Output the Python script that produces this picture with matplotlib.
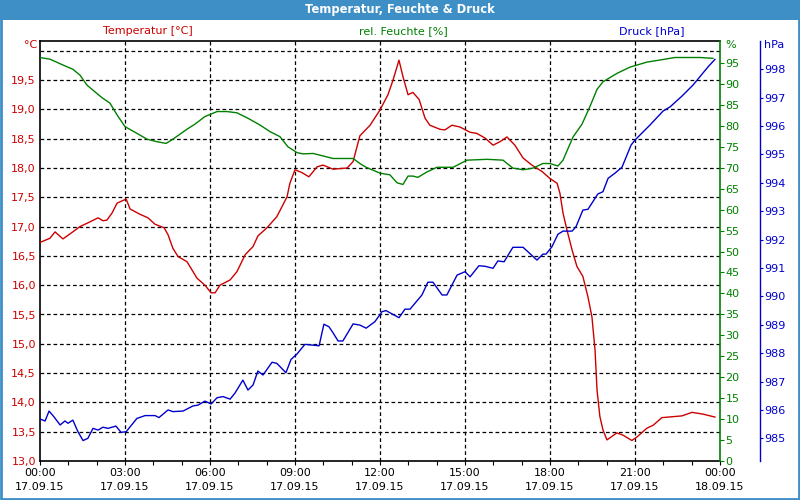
import matplotlib
matplotlib.use("Agg")
import matplotlib.pyplot as plt
from matplotlib.patches import Rectangle
import numpy as np

# ---- data (time in hours since 17.09.15 00:00) ----
temp_t = [0.00, 0.35, 0.53, 0.81, 1.13, 1.41, 1.76, 2.05, 2.22, 2.36, 2.54, 2.72, 3.04, 3.18, 3.53,
          3.81, 4.06, 4.38, 4.52, 4.69, 4.87, 5.19, 5.54, 5.82, 6.04, 6.18, 6.35, 6.71, 6.95, 7.24,
          7.52, 7.69, 8.01, 8.36, 8.54, 8.72, 8.82, 9.00, 9.25, 9.49, 9.78, 9.99, 10.34, 10.84, 11.05,
          11.29, 11.65, 12.00, 12.28, 12.46, 12.67, 12.81, 12.99, 13.16, 13.38, 13.59, 13.76, 14.12,
          14.29, 14.54, 14.82, 15.18, 15.42, 15.71, 15.99, 16.24, 16.48, 16.76, 17.05, 17.36, 17.72,
          18.00, 18.25, 18.35, 18.46, 18.60, 18.78, 18.95, 19.16, 19.34, 19.48, 19.59, 19.66, 19.76,
          19.87, 20.01, 20.36, 20.58, 20.89, 21.07, 21.42, 21.64, 21.95, 22.66, 23.01, 23.40, 23.82]
temp_v = [16.73, 16.80, 16.91, 16.79, 16.90, 17.00, 17.08, 17.15, 17.10, 17.11, 17.23, 17.40, 17.47, 17.30, 17.21,
          17.15, 17.04, 16.98, 16.86, 16.63, 16.49, 16.40, 16.12, 16.00, 15.87, 15.87, 16.00, 16.09, 16.23, 16.52,
          16.66, 16.84, 16.98, 17.17, 17.34, 17.51, 17.74, 17.97, 17.92, 17.85, 18.02, 18.05, 17.98, 18.00, 18.11,
          18.55, 18.73, 18.99, 19.25, 19.50, 19.84, 19.56, 19.25, 19.29, 19.17, 18.85, 18.73, 18.66,
          18.65, 18.73, 18.70, 18.61, 18.59, 18.51, 18.39, 18.45, 18.53, 18.39, 18.17, 18.05, 17.94,
          17.82, 17.74, 17.57, 17.23, 16.94, 16.60, 16.32, 16.15, 15.80, 15.46, 14.89, 14.21, 13.76,
          13.53, 13.36, 13.48, 13.44, 13.35, 13.41, 13.56, 13.61, 13.74, 13.77, 13.83, 13.80, 13.75]

hum_t = [0.00, 0.35, 0.88, 1.16, 1.41, 1.66, 1.87, 2.19, 2.47, 2.72, 3.00, 3.42, 3.78, 4.13, 4.45,
         4.69, 5.19, 5.47, 5.82, 6.25, 6.60, 6.95, 7.34, 7.76, 8.12, 8.47, 8.75, 9.07, 9.28, 9.64,
         9.99, 10.34, 11.05, 11.29, 11.51, 12.00, 12.35, 12.60, 12.81, 12.99, 13.16, 13.34, 13.66, 14.01,
         14.58, 15.07, 15.78, 16.34, 16.69, 17.05, 17.40, 17.75, 18.00, 18.28, 18.46, 18.81, 19.13,
         19.41, 19.66, 19.87, 20.36, 20.82, 21.42, 21.88, 22.41, 23.29, 23.75]
hum_v = [96.3, 95.9, 94.3, 93.5, 92.1, 89.7, 88.5, 86.7, 85.4, 82.6, 79.8, 78.2, 76.8, 76.2, 75.8,
         76.8, 79.2, 80.4, 82.2, 83.4, 83.4, 83.1, 81.8, 80.2, 78.6, 77.4, 75.0, 73.6, 73.3, 73.4,
         72.8, 72.2, 72.2, 71.0, 70.1, 68.7, 68.3, 66.4, 66.0, 68.0, 68.0, 67.7, 69.0, 70.1,
         70.1, 71.8, 72.0, 71.8, 69.9, 69.5, 69.9, 71.0, 71.0, 70.4, 71.8, 77.3, 80.4,
         84.6, 88.7, 90.5, 92.5, 94.0, 95.2, 95.7, 96.3, 96.3, 96.1]

pres_t = [0.00, 0.18, 0.32, 0.49, 0.71, 0.88, 0.99, 1.16, 1.34, 1.52, 1.69, 1.87, 2.05, 2.22, 2.40,
          2.68, 2.86, 3.04, 3.42, 3.71, 4.06, 4.20, 4.52, 4.69, 5.05, 5.40, 5.58, 5.82, 6.04, 6.25,
          6.46, 6.71, 6.88, 7.16, 7.34, 7.52, 7.69, 7.87, 8.19, 8.36, 8.68, 8.86, 9.07, 9.35, 9.85,
          10.02, 10.20, 10.34, 10.52, 10.69, 11.05, 11.29, 11.51, 11.82, 12.07, 12.21, 12.67, 12.88,
          13.06, 13.48, 13.69, 13.87, 14.19, 14.36, 14.72, 15.00, 15.18, 15.49, 15.71, 15.99, 16.16,
          16.38, 16.69, 17.05, 17.54, 17.75, 17.86, 18.07, 18.28, 18.46, 18.78, 18.92, 19.16, 19.34,
          19.69, 19.87, 20.05, 20.29, 20.54, 20.86, 21.00, 21.53, 21.99, 22.24, 22.66, 23.05, 23.29,
          23.58, 23.82]
pres_v = [985.68, 985.61, 985.96, 985.76, 985.47, 985.61, 985.53, 985.64, 985.23, 984.92, 985.00, 985.35, 985.29, 985.39, 985.35,
          985.43, 985.21, 985.23, 985.70, 985.80, 985.80, 985.73, 986.00, 985.94, 985.96, 986.14, 986.17, 986.31, 986.21, 986.43,
          986.47, 986.38, 986.59, 987.05, 986.70, 986.88, 987.37, 987.23, 987.68, 987.64, 987.31, 987.78, 987.97, 988.31, 988.26,
          989.02, 988.93, 988.72, 988.43, 988.43, 989.03, 988.99, 988.88, 989.11, 989.46, 989.50, 989.25, 989.55,
          989.55, 990.05, 990.50, 990.50, 990.05, 990.05, 990.75, 990.87, 990.69, 991.08, 991.06, 990.99, 991.25,
          991.22, 991.73, 991.73, 991.28, 991.49, 991.49, 991.75, 992.19, 992.30, 992.30, 992.46, 993.04, 993.07,
          993.61, 993.69, 994.16, 994.34, 994.55, 995.33, 995.51, 996.04, 996.53, 996.68, 997.06, 997.45, 997.74,
          998.09, 998.35]

x_ticks = [0, 3, 6, 9, 12, 15, 18, 21, 24]
x_labels = ["00:00\n17.09.15", "03:00\n17.09.15", "06:00\n17.09.15", "09:00\n17.09.15",
            "12:00\n17.09.15", "15:00\n17.09.15", "18:00\n17.09.15", "21:00\n17.09.15",
            "00:00\n18.09.15"]
temp_ticks = [13.0, 13.5, 14.0, 14.5, 15.0, 15.5, 16.0, 16.5, 17.0, 17.5, 18.0, 18.5, 19.0, 19.5]
hum_ticks = list(range(0, 100, 5))
pres_ticks = list(range(985, 999))

RED = "#cc0000"
GREEN = "#008000"
BLUE = "#0000cc"
BAR = "#3d8fc6"
FS = 8.0

plt.rcParams['font.family'] = ['DejaVu Sans']

fig = plt.figure(figsize=(8, 5), dpi=100)
fig.patch.set_facecolor("white")

# title bar + border
fig.patches.append(Rectangle((0, 1 - 20 / 500), 1, 20 / 500, transform=fig.transFigure,
                             facecolor=BAR, edgecolor="none", zorder=0))
fig.patches.append(Rectangle((0.001, 0.002), 0.998, 0.997, transform=fig.transFigure,
                             facecolor="none", edgecolor=BAR, linewidth=2, zorder=0))
fig.text(0.5, 1 - 10 / 500, "Temperatur, Feuchte & Druck", color="white", fontsize=8.3,
         fontweight="bold", ha="center", va="center")

L, R, B, T = 40 / 800, 720 / 800, 1 - 461 / 500, 1 - 41 / 500
ax = fig.add_axes([L, B, R - L, T - B])
ax.set_facecolor("white")
ax.set_xlim(0, 24)
ax.set_ylim(13.0, 13.0 + 420 / 58.6)

# grid
for v in temp_ticks[1:] + [20.0]:
    ax.axhline(v, color="black", lw=0.9, ls=(0, (3, 2.2)), zorder=1)
for v in x_ticks[1:-1]:
    ax.axvline(v, color="black", lw=0.9, ls=(0, (3, 2.2)), zorder=1)

ax.set_xticks(x_ticks)
ax.set_xticklabels(x_labels, fontsize=FS, linespacing=1.45)
ax.set_xticks(np.arange(0, 25, 1), minor=True)
ax.tick_params(axis="x", which="both", direction="out", length=3, width=0.8, pad=2, color="black")
ax.set_yticks(temp_ticks)
ax.set_yticklabels([f"{v:.1f}".replace(".", ",") for v in temp_ticks], fontsize=FS, color=RED)
ax.tick_params(axis="y", length=0, pad=3)
for s in ["left", "top", "bottom"]:
    ax.spines[s].set_color("black")
    ax.spines[s].set_linewidth(1.2)
ax.spines["right"].set_visible(False)

ax.plot(temp_t, temp_v, color=RED, lw=1.0, zorder=3)

# humidity axis
ax2 = ax.twinx()
ax2.set_ylim(0, 420 / 4.19)
ax2.set_yticks(hum_ticks)
ax2.set_yticklabels([str(v) for v in hum_ticks], fontsize=FS, color=GREEN)
ax2.tick_params(axis="y", direction="out", length=3, width=0.8, color=GREEN, pad=1)
for s in ["left", "top", "bottom"]:
    ax2.spines[s].set_visible(False)
ax2.spines["right"].set_color(GREEN)
ax2.spines["right"].set_linewidth(1.2)
ax2.plot(hum_t, hum_v, color=GREEN, lw=1.0, zorder=3)

# pressure axis (spine 40 px to the right of the plot = 28.8 pt)
ax3 = ax.twinx()
ax3.set_ylim(984.2, 984.2 + 420 / 28.38)
ax3.spines["right"].set_position(("outward", 40 * 72 / 100))
for s in ["left", "top", "bottom"]:
    ax3.spines[s].set_visible(False)
ax3.spines["right"].set_color(BLUE)
ax3.spines["right"].set_linewidth(1.0)
ax3.set_yticks(pres_ticks)
ax3.set_yticklabels([str(v) for v in pres_ticks], fontsize=FS, color=BLUE)
ax3.tick_params(axis="y", direction="out", length=2, width=0.8, color=BLUE, pad=1)
ax3.plot(pres_t, pres_v, color=BLUE, lw=1.0, zorder=3)

# series labels and units
fig.text(148 / 800, 1 - 31 / 500, "Temperatur [°C]", color=RED, fontsize=FS, ha="center", va="center")
fig.text(403 / 800, 1 - 31 / 500, "rel. Feuchte [%]", color=GREEN, fontsize=FS, ha="center", va="center")
fig.text(652 / 800, 1 - 31 / 500, "Druck [hPa]", color=BLUE, fontsize=FS, ha="center", va="center")
fig.text(37 / 800, 1 - 45 / 500, "°C", color=RED, fontsize=FS, ha="right", va="center")
fig.text(725 / 800, 1 - 45 / 500, "%", color=GREEN, fontsize=FS, ha="left", va="center")
fig.text(764 / 800, 1 - 45 / 500, "hPa", color=BLUE, fontsize=FS, ha="left", va="center")

fig.savefig("out.png", dpi=100, facecolor="white")
